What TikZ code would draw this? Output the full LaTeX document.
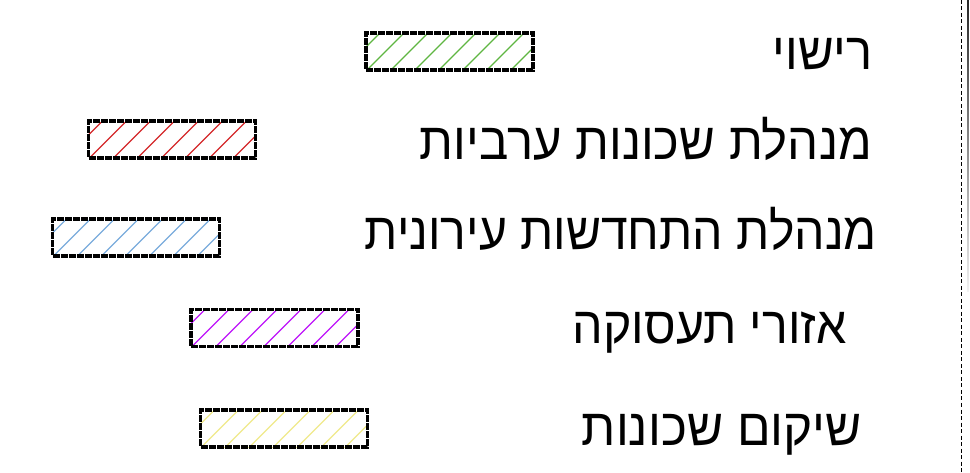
\documentclass[tikz,border=0pt]{standalone}
\usepackage{fontspec}
\usepackage{graphicx}
\TeXXeTstate=1
\newfontfamily\hebfont[Script=Hebrew]{Liberation Sans}
\definecolor{cgreen}{RGB}{95,182,65}
\definecolor{cred}{RGB}{212,40,42}
\definecolor{cblue}{RGB}{122,172,220}
\definecolor{cpurple}{RGB}{190,20,250}
\definecolor{cyellow}{RGB}{240,234,140}
\newcommand\fitw[2]{\resizebox{#1}{\height}{\hebfont #2}}
\tikzset{
  legbox/.style={draw=black, line width=3.4pt, dash pattern=on 7pt off 1pt,
    minimum width=167pt, minimum height=37pt, inner sep=0pt, outer sep=0pt,
    path picture={\foreach \i in {-2,...,9}
      \draw[#1, solid, line width=1.4pt] ($(path picture bounding box.south west)+(\i*24pt-4pt,-5pt)$) -- ++(50pt,50pt);}},
  lbl/.style={anchor=base east, inner sep=0pt, font=\fontsize{52}{60}\selectfont}
}
\usetikzlibrary{calc}
\begin{document}
\begin{tikzpicture}[x=1pt,y=-1pt]
\useasboundingbox (0,0) rectangle (970,473);
\fill[white] (0,0) rectangle (970,473);
% right-hand lines
\coordinate (dt) at (961,0);
\coordinate (db) at (961,473);
\draw[black, line width=0.9pt, dash pattern=on 4pt off 2.5pt] (dt) -- (db);
\shade[top color=black!85, bottom color=black!5] (967.2,0) rectangle (968.8,292);
% boxes
\node[legbox=cgreen] (b1) at (449.5,51.5) {};
\node[legbox=cred] (b2) at (172,139.5) {};
\node[legbox=cblue] (b3) at (136,237.5) {};
\node[legbox=cpurple] (b4) at (274.5,328) {};
\node[legbox=cyellow] (b5) at (284,428.5) {};
% labels
\node[lbl] (t1) at (873,70) {\fitw{100pt}{\beginR רישוי\endR}};
\node[lbl] (t2) at (872,160) {\fitw{452pt}{\beginR מנהלת שכונות ערביות\endR}};
\node[lbl] (t3) at (877,250) {\fitw{512pt}{\beginR מנהלת התחדשות עירונית\endR}};
\node[lbl] (t4) at (847,343) {\fitw{274pt}{\beginR אזורי תעסוקה\endR}};
\node[lbl] (t5) at (862,445) {\fitw{280pt}{\beginR שיקום שכונות\endR}};
\end{tikzpicture}
\end{document}
